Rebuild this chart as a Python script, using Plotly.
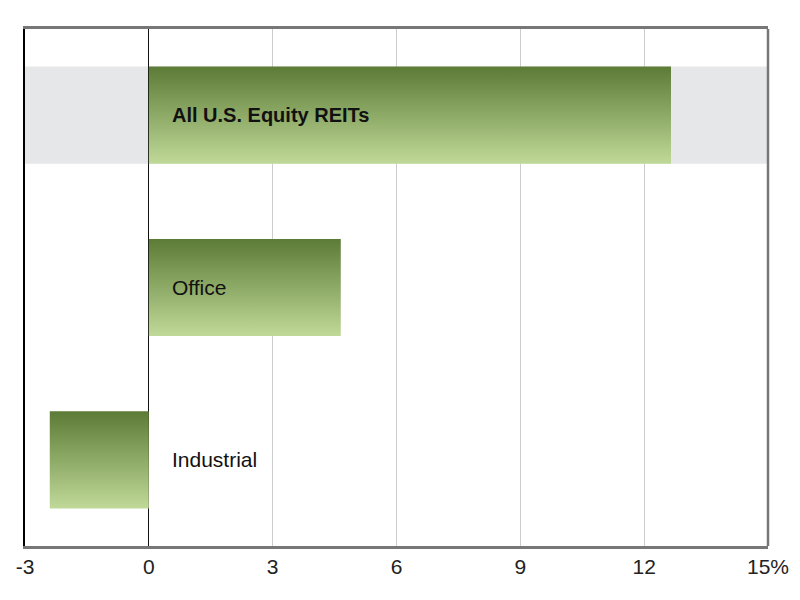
import plotly.graph_objects as go

categories = ["All U.S. Equity REITs", "Office", "Industrial"]
values = [12.65, 4.65, -2.4]
bold_flags = [True, False, False]
tick_vals = [-3, 0, 3, 6, 9, 12, 15]
tick_text = ["-3", "0", "3", "6", "9", "12", "15%"]

FONT = "Liberation Sans Narrow, Arial Narrow, Liberation Sans, Arial, sans-serif"
half = 0.282
n = len(categories)
positions = [n - 1 - i for i in range(n)]  # first category at top

fig = go.Figure()

for cat, val, pos in zip(categories, values, positions):
    fig.add_trace(go.Scatter(
        x=[0, val, val, 0, 0],
        y=[pos - half, pos - half, pos + half, pos + half, pos - half],
        mode="lines",
        fill="toself",
        line=dict(width=0, color="rgba(0,0,0,0)"),
        fillgradient=dict(type="vertical",
                          colorscale=[[0, "#c0d998"], [1, "#5c7b36"]]),
        hoverinfo="skip",
        showlegend=False,
        name=cat,
    ))

for cat, pos, b in zip(categories, positions, bold_flags):
    fig.add_annotation(
        x=0, y=pos, xref="x", yref="y",
        text=f"<b>{cat}</b>" if b else cat,
        showarrow=False, xanchor="left", yanchor="middle",
        xshift=21,
        font=dict(family=FONT, size=20 if b else 21, color="#111111"),
    )

# highlight band for first category
fig.add_shape(type="rect", xref="paper", yref="y",
              x0=0, x1=1, y0=positions[0] - half, y1=positions[0] + half,
              fillcolor="#e6e7e8", line=dict(width=0), layer="between")

# right border
fig.add_shape(type="line", xref="paper", yref="paper", x0=1, x1=1, y0=0, y1=1,
              line=dict(color="#777777", width=2.5), layer="above")

fig.update_layout(
    width=784, height=584,
    margin=dict(l=17, r=24, t=21, b=46, autoexpand=False),
    paper_bgcolor="white", plot_bgcolor="white",
    xaxis=dict(
        range=[-3, 15], tickvals=tick_vals, ticktext=tick_text,
        showgrid=True, gridcolor="#cccccc", gridwidth=1,
        zeroline=True, zerolinecolor="#111111", zerolinewidth=1,
        showline=True, linecolor="#777777", linewidth=2.5, mirror=True,
        ticks="", tickfont=dict(family=FONT, size=21, color="#222222"),
        ticklabelstandoff=0, automargin=False,
        fixedrange=True,
    ),
    yaxis=dict(
        range=[-0.5, n - 0.5], showticklabels=False, showgrid=False,
        zeroline=False, showline=True, linecolor="#000000", linewidth=1.5,
        mirror=False, ticks="", fixedrange=True, automargin=False,
    ),
)

fig.write_html("out.html")
